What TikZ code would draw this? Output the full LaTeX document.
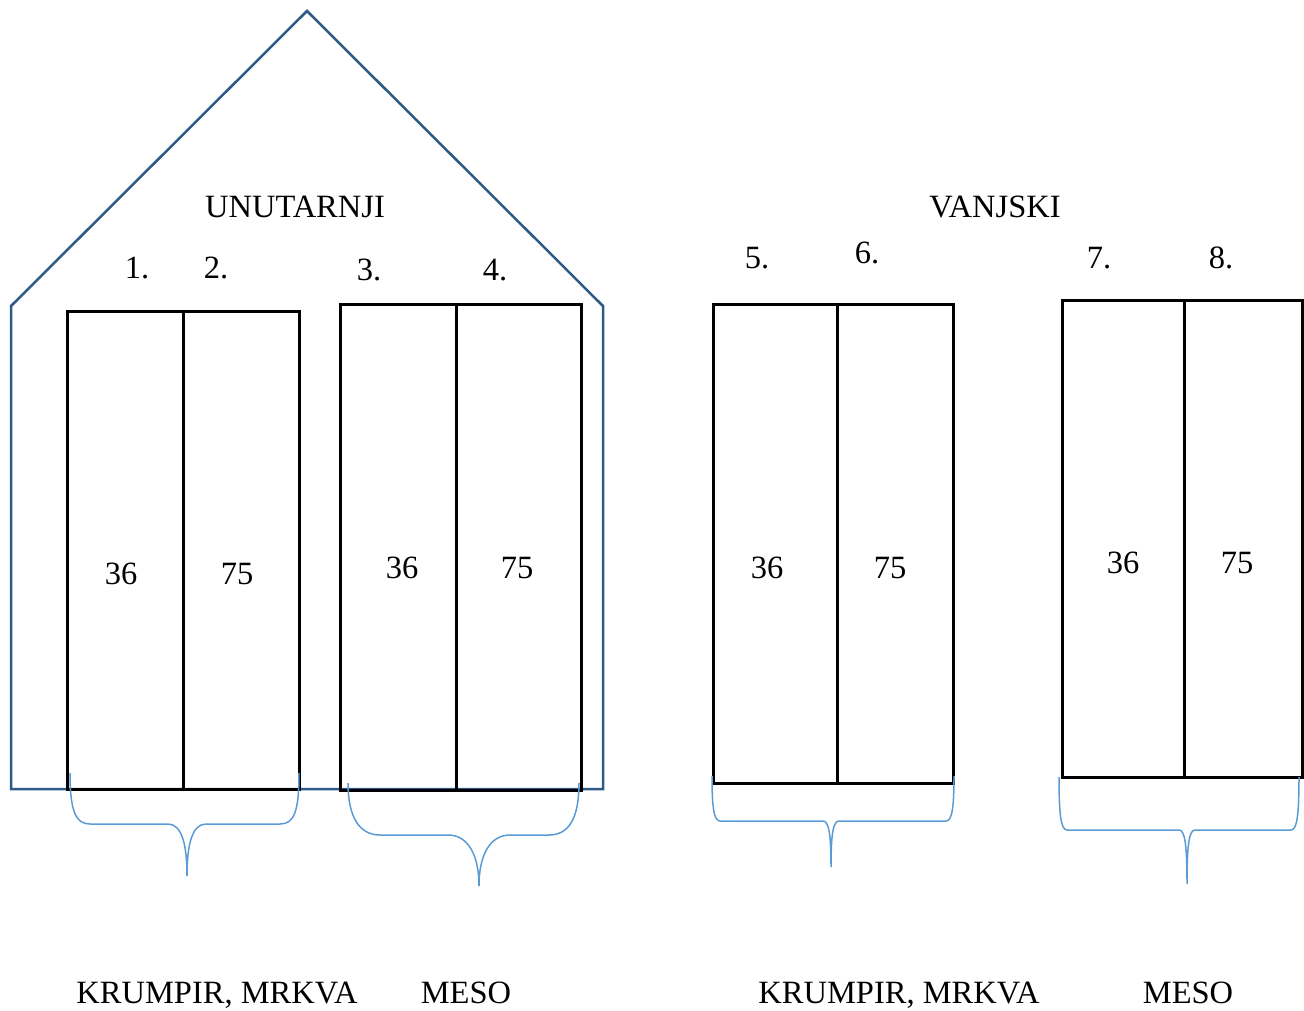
\documentclass[tikz,border=0pt]{standalone}
\usepackage{fontspec}
\setmainfont{Liberation Serif}
\definecolor{housec}{HTML}{2E5A88}
\definecolor{bracec}{HTML}{5B9BD5}
\begin{document}
\begin{tikzpicture}[x=1pt,y=-1pt,
  house/.style={draw=housec,line width=2.5pt,line join=miter},
  cell/.style={draw=black,line width=3pt},
  brace/.style={draw=bracec,line width=1.5pt},
  lab/.style={font=\fontsize{32.5pt}{38pt}\selectfont,inner sep=0pt,anchor=base}]
\useasboundingbox (0,0) rectangle (1304,1010);
% house outline
\coordinate (apex) at (307,11);
\coordinate (hl) at (11,306);
\coordinate (hr) at (603,306);
\coordinate (hbl) at (11,789);
\coordinate (hbr) at (603,789);
\draw[house] (hbl) -- (hl) -- (apex) -- (hr) -- (hbr) -- cycle;
% boxes
\draw[cell] (67,311) rectangle (299,789); \draw[cell] (183,311) -- (183,789);
\draw[cell] (340,304) rectangle (581,790); \draw[cell] (456,304) -- (456,790);
\draw[cell] (713,304) rectangle (953,783); \draw[cell] (837,304) -- (837,783);
\draw[cell] (1062,300) rectangle (1302,777); \draw[cell] (1184,300) -- (1184,777);
% braces
\draw[brace] (70,773) .. controls (70,812) and (76,824) .. (90,824) -- (168,824)
  .. controls (182,824) and (187,845) .. (187,876)
  .. controls (187,845) and (192,824) .. (206,824) -- (280,824)
  .. controls (294,824) and (299,812) .. (299,773);
\draw[brace] (348,783) .. controls (348,818) and (360,835) .. (380,835) -- (448,835)
  .. controls (468,835) and (479,855) .. (479,886)
  .. controls (479,855) and (490,835) .. (510,835) -- (549,835)
  .. controls (569,835) and (579,818) .. (579,783);
\draw[brace] (712,776) .. controls (712,808) and (714,821) .. (720,821) -- (823,821)
  .. controls (829,821) and (831,835) .. (831,867)
  .. controls (831,835) and (833,821) .. (839,821) -- (946,821)
  .. controls (952,821) and (954,808) .. (954,776);
\draw[brace] (1059,777) .. controls (1059,815) and (1061,830) .. (1067,830) -- (1179,830)
  .. controls (1185,830) and (1187,845) .. (1187,884)
  .. controls (1187,845) and (1189,830) .. (1195,830) -- (1291,830)
  .. controls (1297,830) and (1299,815) .. (1299,777);
% labels
\node[lab] (tin) at (295,217) {UNUTARNJI};
\node[lab] (tout) at (995,217) {VANJSKI};
\node[lab] (n1) at (137,278) {1.};
\node[lab] (n2) at (216,278) {2.};
\node[lab] (n3) at (369,280) {3.};
\node[lab] (n4) at (495,280) {4.};
\node[lab] (n5) at (757,268) {5.};
\node[lab] (n6) at (867,263) {6.};
\node[lab] (n7) at (1099,268) {7.};
\node[lab] (n8) at (1221,268) {8.};
\node[lab] (a1) at (121,584) {36};
\node[lab] (b1) at (237,584) {75};
\node[lab] (a2) at (402,578) {36};
\node[lab] (b2) at (517,578) {75};
\node[lab] (a3) at (767,578) {36};
\node[lab] (b3) at (890,578) {75};
\node[lab] (a4) at (1123,573) {36};
\node[lab] (b4) at (1237,573) {75};
\node[lab] (k1) at (217,1003) {KRUMPIR, MRKVA};
\node[lab] (m1) at (466,1003) {MESO};
\node[lab] (k2) at (899,1003) {KRUMPIR, MRKVA};
\node[lab] (m2) at (1188,1003) {MESO};
\end{tikzpicture}
\end{document}
